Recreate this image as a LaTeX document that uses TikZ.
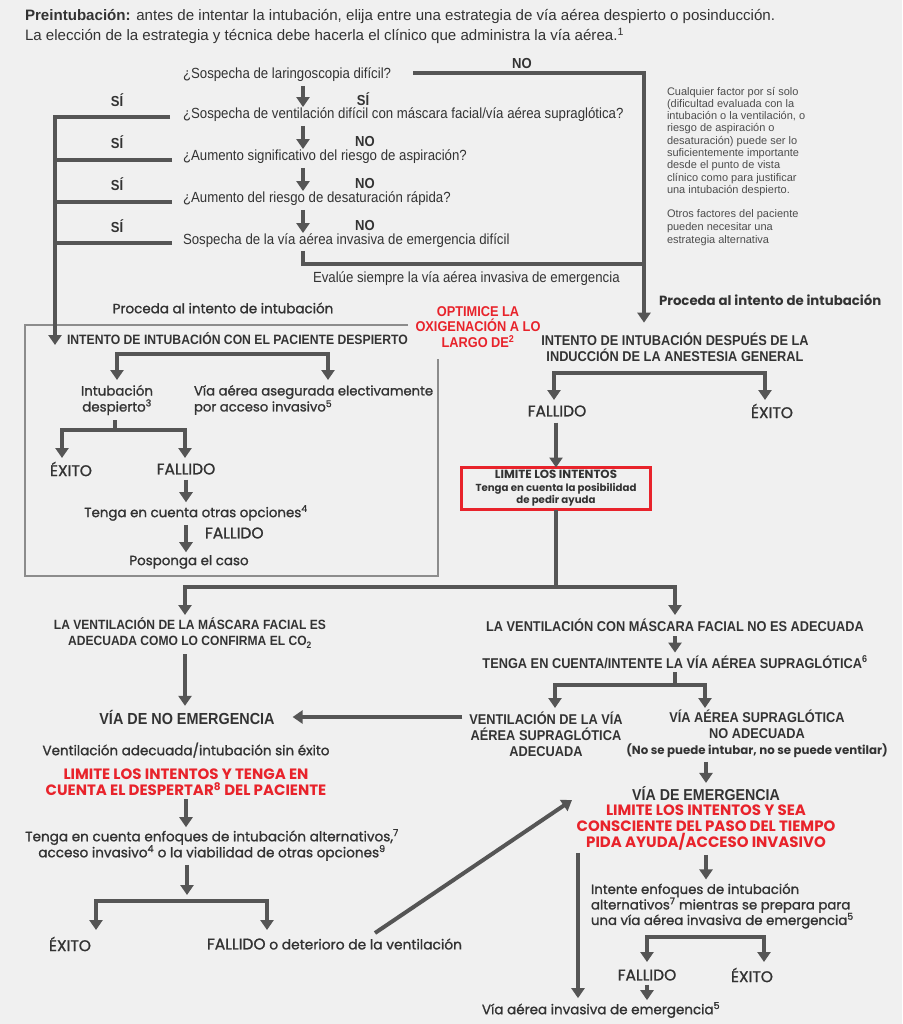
\documentclass[tikz,border=0pt]{standalone}
\usepackage{fontspec}
\setmainfont{Liberation Sans}
\newfontfamily\fc[FakeStretch=0.9]{Liberation Sans}
\newfontfamily\fw{Poppins}
\newfontfamily\fwm[FakeBold=1.2]{Poppins}
\usetikzlibrary{arrows.meta}
\definecolor{bg}{HTML}{F0F0F0}
\definecolor{tx}{HTML}{333333}
\definecolor{ag}{HTML}{555555}
\definecolor{bxc}{HTML}{8C8C8C}
\definecolor{rd}{HTML}{E8232B}
\definecolor{nt}{HTML}{4D4D4D}
\newcommand\fz[2]{\fontsize{#1}{#2}\selectfont}
\tikzset{
 >={Triangle[width=13pt,length=10pt]},
 arr/.style={draw=ag,line width=4pt,->},
 arrb/.style={draw=ag,line width=4pt,<->},
 ln/.style={draw=ag,line width=4pt},
 qn/.style={anchor=west,font=\fc\fz{14.7}{17}},
 yn/.style={font=\fc\bfseries\fz{14.5}{17}},
 hd/.style={font=\fc\bfseries\fz{14.2}{16},align=center},
 md/.style={font=\fwm\fz{13.4}{16},align=center},
 mdc/.style={font=\fwm\fz{15.5}{18},align=center},
 bd/.style={font=\fw\bfseries\fz{15}{16},align=center},
 rt/.style={text=rd},
}
\begin{document}
\begin{tikzpicture}[x=1pt,y=-1pt,every node/.style={inner sep=0pt,outer sep=0pt,text=tx}]
\fill[bg] (0,0) rectangle (902,1024);
\useasboundingbox (0,0) rectangle (902,1024);
% header
\node[anchor=west,font=\fz{15.1}{17}] (h1) at (25,17) {\textbf{Preintubación:} antes de intentar la intubación, elija entre una estrategia de vía aérea despierto o posinducción.};
\node[anchor=west,font=\fz{15.1}{17}] (h2) at (25,36) {La elección de la estrategia y técnica debe hacerla el clínico que administra la vía aérea.\textsuperscript{1}};
% guide coordinates
\coordinate (cA) at (303,0);
\coordinate (cL) at (55,0);
\coordinate (cR) at (644,0);
% questions
\node[qn] (q1) at (183,75) {¿Sospecha de laringoscopia difícil?};
\node[qn] (q2) at (183,115) {¿Sospecha de ventilación difícil con máscara facial/vía aérea supraglótica?};
\node[qn] (q3) at (183,157) {¿Aumento significativo del riesgo de aspiración?};
\node[qn] (q4) at (183,199) {¿Aumento del riesgo de desaturación rápida?};
\node[qn] (q5) at (183,241) {Sospecha de la vía aérea invasiva de emergencia difícil};
\node[anchor=west,font=\fc\fz{14.7}{17}] (ev) at (313,279) {Evalúe siempre la vía aérea invasiva de emergencia};
% yes/no labels
\node[yn] (no0) at (522,64) {NO};
\node[yn] (si0) at (363,99) {SÍ};
\node[yn] (no1) at (365,142) {NO};
\node[yn] (no2) at (365,184) {NO};
\node[yn] (no3) at (365,226) {NO};
\node[yn] (sl1) at (117,100) {SÍ};
\node[yn] (sl2) at (117,142) {SÍ};
\node[yn] (sl3) at (117,184) {SÍ};
\node[yn] (sl4) at (117,226) {SÍ};
% notes
\node[anchor=north west,align=left,font=\fz{11}{12.3},text=nt] (n1) at (667,87) {Cualquier factor por sí solo\\(dificultad evaluada con la\\intubación o la ventilación, o\\riesgo de aspiración o\\desaturación) puede ser lo\\suficientemente importante\\desde el punto de vista\\clínico como para justificar\\una intubación despierto.};
\node[anchor=north west,align=left,font=\fz{11}{13},text=nt] (n2) at (667,210) {Otros factores del paciente\\pueden necesitar una\\estrategia alternativa};
% proceed labels
\node[font=\fwm\fz{13.5}{16}] (pr1) at (223,308) {Proceda al intento de intubación};
\node[anchor=west,font=\fw\bfseries\fz{13.3}{16}] (pr2) at (659,300) {Proceda al intento de intubación};
% awake box
\draw[bxc,line width=2pt] (408,325) -| (25,576) -| (438,359);
\node[font=\fc\bfseries\fz{14.2}{15.5},rt,align=center] (opt) at (478,327) {OPTIMICE LA\\OXIGENACIÓN A LO\\LARGO DE\textsuperscript{2}};
\node[anchor=west,font=\fc\bfseries\fz{13.55}{16}] (int1) at (67,339) {INTENTO DE INTUBACIÓN CON EL PACIENTE DESPIERTO};
\node[md] (aw1) at (117,400) {Intubación\\despierto\textsuperscript{3}};
\node[anchor=west,align=left,font=\fwm\fz{13.2}{16}] (el1) at (194,400) {Vía aérea asegurada electivamente\\por acceso invasivo\textsuperscript{5}};
\node[mdc] (ex1) at (71,469) {ÉXITO};
\node[mdc] (fa1) at (186,469) {FALLIDO};
\node[md] (to1) at (196,513) {Tenga en cuenta otras opciones\textsuperscript{4}};
\node[anchor=west,font=\fwm\fz{15.5}{16}] (fa1b) at (205,533) {FALLIDO};
\node[md] (po1) at (189,562) {Posponga el caso};
% right branch
\node[hd] (int2) at (675,347) {INTENTO DE INTUBACIÓN DESPUÉS DE LA\\INDUCCIÓN DE LA ANESTESIA GENERAL};
\node[mdc] (fa2) at (557,411) {FALLIDO};
\node[mdc] (ex2) at (772,411) {ÉXITO};
\node[draw=rd,line width=3pt,minimum width=189pt,minimum height=42pt,align=center,font=\fw\bfseries\fz{10.2}{12.5}] (rb) at (556,488.5) {{\fz{11.8}{12.5}LIMITE LOS INTENTOS}\\Tenga en cuenta la posibilidad\\de pedir ayuda};
% ventilation
\node[hd,font=\fc\bfseries\fz{13.4}{16}] (vm1) at (190,633) {LA VENTILACIÓN DE LA MÁSCARA FACIAL ES\\ADECUADA COMO LO CONFIRMA EL CO\textsubscript{2}};
\node[hd] (vm2) at (675,625) {LA VENTILACIÓN CON MÁSCARA FACIAL NO ES ADECUADA};
\node[hd] (tg) at (675,662) {TENGA EN CUENTA/INTENTE LA VÍA AÉREA SUPRAGLÓTICA\textsuperscript{6}};
\node[font=\fc\bfseries\fz{16}{18}] (nd) at (187,717) {VÍA DE NO EMERGENCIA};
\node[hd] (vs) at (546,734) {VENTILACIÓN DE LA VÍA\\AÉREA SUPRAGLÓTICA\\ADECUADA};
\node[hd] (va) at (757,734) {VÍA AÉREA SUPRAGLÓTICA\\NO ADECUADA\\{\fw\bfseries\fz{11.8}{16}(No se puede intubar, no se puede ventilar)}};
\node[md,font=\fwm\fz{13.5}{16}] (va2) at (186,750) {Ventilación adecuada/intubación sin éxito};
\node[bd,rt] (red1) at (186,782) {LIMITE LOS INTENTOS Y TENGA EN\\CUENTA EL DESPERTAR\textsuperscript{8} DEL PACIENTE};
\node[md,font=\fwm\fz{13.6}{16}] (te) at (212,845) {Tenga en cuenta enfoques de intubación alternativos,\textsuperscript{7}\\acceso invasivo\textsuperscript{4} o la viabilidad de otras opciones\textsuperscript{9}};
\node[mdc] (ex3) at (70,944) {ÉXITO};
\node[anchor=west,font=\fwm\fz{13.8}{16}] (fd) at (207,944) {{\fz{15.5}{16}FALLIDO} o deterioro de la ventilación};
\node[font=\fc\bfseries\fz{15.8}{18}] (ve) at (706,794) {VÍA DE EMERGENCIA};
\node[bd,rt] (vr) at (706,828) {LIMITE LOS INTENTOS Y SEA\\CONSCIENTE DEL PASO DEL TIEMPO\\PIDA AYUDA/ACCESO INVASIVO};
\node[anchor=west,align=left,font=\fwm\fz{13.3}{15.5}] (ie) at (591,906) {Intente enfoques de intubación\\alternativos\textsuperscript{7} mientras se prepara para\\una vía aérea invasiva de emergencia\textsuperscript{5}};
\node[mdc] (fa4) at (647,975) {FALLIDO};
\node[mdc] (ex4) at (752,975) {ÉXITO};
\node[md,font=\fwm\fz{13.5}{16}] (vai) at (601,1010) {Vía aérea invasiva de emergencia\textsuperscript{5}};
% ---------- connectors ----------
\draw[arr,shorten <=4pt,shorten >=1pt] (q1.south -| cA) -- (q2.north -| cA);
\draw[arr,shorten <=4pt,shorten >=1pt] (q2.south -| cA) -- (q3.north -| cA);
\draw[arr,shorten <=4pt,shorten >=1pt] (q3.south -| cA) -- (q4.north -| cA);
\draw[arr,shorten <=4pt,shorten >=1pt] (q4.south -| cA) -- (q5.north -| cA);
\coordinate (j1) at (644,264);
\draw[ln,shorten <=3pt] (q5.south -| cA) |- (j1);
\draw[arr,shorten >=10pt] ([xshift=22pt,yshift=2pt]q1.east) -| (int2.north -| cR);
\draw[arr,shorten >=-6pt] ([xshift=-13pt,yshift=-2pt]q2.west) -| (int1.west -| cL);
\draw[ln] ([xshift=-11pt,yshift=-3pt]q3.west) -- ([yshift=-3pt]q3.west -| cL);
\draw[ln] ([xshift=-11pt,yshift=-3pt]q4.west) -- ([yshift=-3pt]q4.west -| cL);
\draw[ln] ([xshift=-11pt,yshift=-2pt]q5.west) -- ([yshift=-2pt]q5.west -| cL);
% awake split
\coordinate (t1L) at (117,380); \coordinate (m1) at (222,354); \coordinate (t1R) at (328,380);
\draw[arrb] (t1L) |- (m1) -| (t1R);
\coordinate (m2) at (115,430); \coordinate (t2L) at (62,458); \coordinate (t2R) at (185,458);
\draw[ln,shorten <=5pt] (aw1.south -| m2) -- (m2);
\draw[arrb] (t2L) |- (m2) -| (t2R);
\draw[arr,shorten <=5pt,shorten >=3pt] (fa1.south) -- (to1.north -| fa1.south);
\draw[arr,shorten <=4pt,shorten >=3pt] (to1.south -| fa1.south) -- (po1.north -| fa1.south);
% induction split
\coordinate (t3L) at (554,400); \coordinate (m3) at (660,373); \coordinate (t3R) at (765,400);
\draw[arrb] (t3L) |- (m3) -| (t3R);
\draw[arr,shorten <=6pt] (fa2.south -| rb.north) -- (rb.north);
\coordinate (m4) at (556,587); \coordinate (t4L) at (185,615); \coordinate (t4R) at (675,615);
\draw[ln] (rb.south) -- (m4);
\draw[arrb] (t4L) |- (m4) -| (t4R);
\draw[arr,shorten <=6pt,shorten >=4pt] (vm1.south -| t4L) -- (nd.north -| t4L);
\draw[arr,shorten <=5pt,shorten >=3pt] (vm2.south) -- (tg.north);
\coordinate (m5) at (675,685); \coordinate (t5L) at (555,708); \coordinate (t5R) at (705,708);
\draw[ln,shorten <=4pt] (tg.south) -- (m5);
\draw[arrb] (t5L) |- (m5) -| (t5R);
\draw[arr,shorten <=7pt,shorten >=18pt] (vs.west |- nd) -- (nd.east);
\draw[arr,shorten <=4pt,shorten >=4pt] (va.south -| ve.north) -- (ve.north);
\draw[arr,shorten <=4pt,shorten >=4pt] (vr.south) -- (ie.north -| vr.south);
\coordinate (m6) at (705,937); \coordinate (t6L) at (647,962); \coordinate (t6R) at (764,962);
\draw[arrb] (t6L) |- (m6) -| (t6R);
\draw[arr,shorten <=4pt,shorten >=2pt] (fa4.south) -- (vai.north -| fa4.south);
\coordinate (lv) at (578,0);
\draw[arr,shorten <=2pt,shorten >=4pt] (vr.south -| lv) -- (vai.north -| lv);
\coordinate (dgS) at (375,933); \coordinate (dgE) at (572,800);
\draw[arr] (dgS) -- (dgE);
% left lower
\draw[arr,shorten <=4pt,shorten >=2pt] (red1.south) -- (te.north -| red1.south);
\coordinate (m7) at (187,901); \coordinate (t7L) at (96,930); \coordinate (t7R) at (267,930);
\draw[arr,shorten <=4pt,shorten >=6pt] (te.south -| m7) -- (m7);
\draw[arrb] (t7L) |- (m7) -| (t7R);
\end{tikzpicture}
\end{document}
